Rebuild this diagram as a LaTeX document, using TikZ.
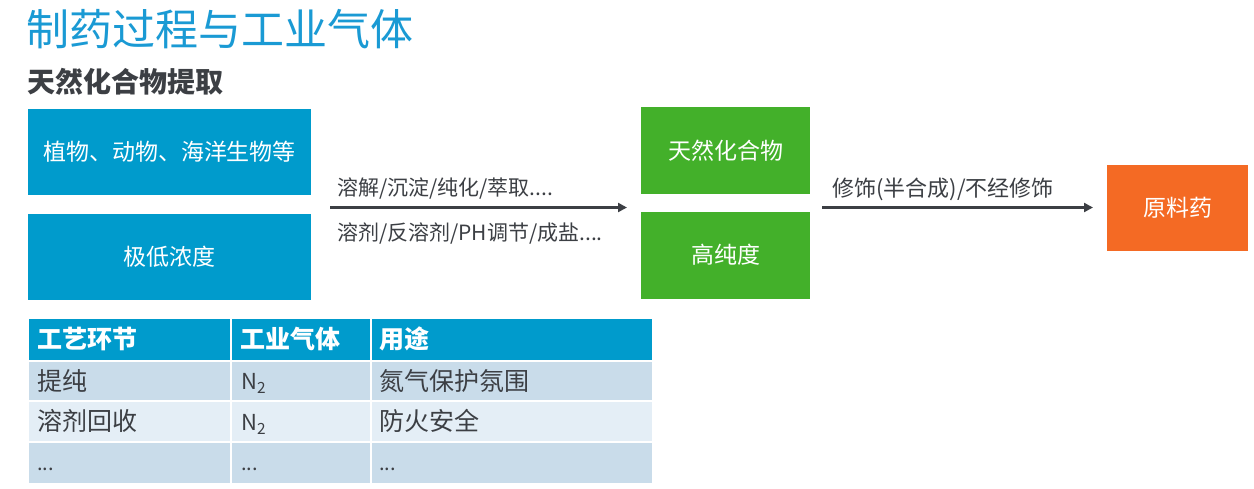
\documentclass[tikz,border=0pt]{standalone}
\usepackage{fontspec}
\setmainfont{Noto Sans CJK SC}
\usetikzlibrary{arrows.meta}
\definecolor{titleblue}{HTML}{1A9AD4}
\definecolor{boxblue}{HTML}{009BCC}
\definecolor{boxgreen}{HTML}{43B02A}
\definecolor{boxorange}{HTML}{F46A24}
\definecolor{darktext}{HTML}{3C3F44}
\definecolor{rowa}{HTML}{C9DCEA}
\definecolor{rowb}{HTML}{E4EEF6}
\tikzset{
  bluebox/.style={fill=boxblue, text=white, minimum width=283pt, minimum height=86pt, inner sep=0pt, font=\fontsize{23}{26}\selectfont},
  greenbox/.style={fill=boxgreen, text=white, minimum width=169pt, minimum height=87pt, inner sep=0pt, font=\fontsize{23}{26}\selectfont},
  orangebox/.style={fill=boxorange, text=white, minimum width=141pt, minimum height=86pt, inner sep=0pt, font=\fontsize{23}{26}\selectfont},
  flow/.style={draw=darktext, line width=2.6pt, -{Triangle[length=9pt,width=9pt]}},
  lbl/.style={anchor=base west, inner sep=0pt, text=darktext, font=\fontsize{21}{24}\selectfont},
  thead/.style={anchor=west, inner sep=0pt, text=white, font=\fontsize{25}{28}\selectfont\bfseries},
  tcell/.style={anchor=west, inner sep=0pt, text=darktext, font=\fontsize{25}{28}\selectfont},
}
\begin{document}
\begin{tikzpicture}[x=1pt,y=-1pt]
\useasboundingbox (0,0) rectangle (1254,488);
\fill[white] (0,0) rectangle (1254,488);
% titles
\node[anchor=base west, inner sep=0pt, text=titleblue, font=\fontsize{43}{47}\selectfont] (title) at (26,45) {制药过程与工业气体};
\node[anchor=base west, inner sep=0pt, text=darktext, font=\fontsize{28}{32}\selectfont\bfseries] (sub) at (27,92) {天然化合物提取};
% boxes
\node[bluebox] (src) at (169.5,152) {植物、动物、海洋生物等};
\node[bluebox] (low) at (169.5,257) {极低浓度};
\node[greenbox] (nat) at (725.5,150.5) {天然化合物};
\node[greenbox] (pure) at (725.5,255) {高纯度};
\node[orangebox] (api) at (1177.5,208) {原料药};
% arrows
\coordinate (a1s) at (330,207.5);
\coordinate (a1e) at (627,207.5);
\coordinate (a2s) at (822,207.5);
\coordinate (a2e) at (1093,207.5);
\draw[flow] (a1s) -- (a1e);
\draw[flow] (a2s) -- (a2e);
\node[lbl] (l1) at (337,195) {溶解/沉淀/纯化/萃取....};
\node[lbl] (l2) at (337,240) {溶剂/反溶剂/PH调节/成盐....};
\node[lbl, font=\fontsize{22}{25}\selectfont] (l3) at (832,196) {修饰(半合成)/不经修饰};
% table
\fill[boxblue] (29,319) rectangle (230,360);
\fill[boxblue] (232,319) rectangle (370,360);
\fill[boxblue] (372,319) rectangle (652,360);
\foreach \ya/\yb/\c in {362/400/rowa, 402/441/rowb, 443/483/rowa}{
  \fill[\c] (29,\ya) rectangle (230,\yb);
  \fill[\c] (232,\ya) rectangle (370,\yb);
  \fill[\c] (372,\ya) rectangle (652,\yb);
}
\node[thead] (h1) at (37,339) {工艺环节};
\node[thead] (h2) at (240,339) {工业气体};
\node[thead] (h3) at (379,339) {用途};
\node[tcell] (c11) at (37,381) {提纯};
\node[tcell, font=\fontsize{22}{25}\selectfont] (c12) at (241,383) {N\textsubscript{2}};
\node[tcell] (c13) at (379,381) {氮气保护氛围};
\node[tcell] (c21) at (37,421) {溶剂回收};
\node[tcell, font=\fontsize{22}{25}\selectfont] (c22) at (241,424) {N\textsubscript{2}};
\node[tcell] (c23) at (379,421) {防火安全};
\node[tcell, anchor=base west, font=\fontsize{20}{24}\selectfont] (c31) at (37,470) {...};
\node[tcell, anchor=base west, font=\fontsize{20}{24}\selectfont] (c32) at (241,470) {...};
\node[tcell, anchor=base west, font=\fontsize{20}{24}\selectfont] (c33) at (379,470) {...};
\end{tikzpicture}
\end{document}
